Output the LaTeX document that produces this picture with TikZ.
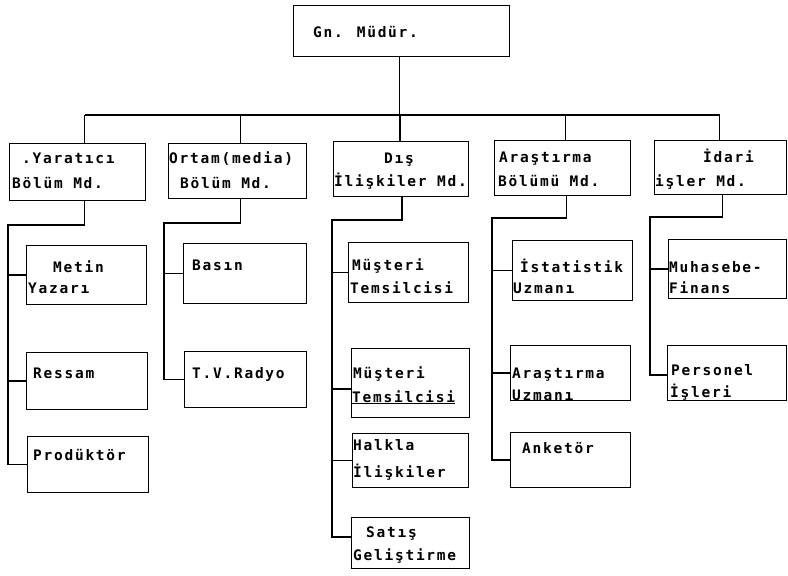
\documentclass[tikz,border=0pt]{standalone}
\usepackage{fontspec}
\newfontfamily\tw{DejaVu Sans Mono}[LetterSpace=12]
\usetikzlibrary{calc}
\tikzset{
  box/.style={draw, line width=1.3pt, inner sep=0pt, anchor=north west},
  txt/.style={font=\tw\bfseries\fontsize{14.5}{16}\selectfont, anchor=base west, inner sep=0pt},
  con/.style={line width=1.4pt}
}
\newcommand{\bx}[5]{\node[box, minimum width={#4-#2}, minimum height={#5-#3}] (#1) at (#2,#3) {};}
\begin{document}
\begin{tikzpicture}[x=1pt,y=-1pt]
\useasboundingbox (0,0) rectangle (788,576);
% boxes
\bx{gm}{293}{5}{509}{56}
\bx{yar}{9}{143}{145}{200}
\bx{ort}{168}{143}{306}{198}
\bx{dis}{333}{141}{468}{196}
\bx{ara}{494}{140}{630}{195}
\bx{ida}{654}{140}{786}{194}
\bx{met}{26}{245}{146}{304}
\bx{res}{26}{352}{147}{409}
\bx{pro}{27}{436}{148}{492}
\bx{bas}{183}{243}{306}{303}
\bx{tv}{184}{351}{306}{407}
\bx{mus1}{348}{242}{468}{302}
\bx{mus2}{351}{348}{469}{417}
\bx{hal}{352}{433}{468}{487}
\bx{sat}{351}{517}{469}{568}
\bx{ist}{512}{240}{632}{300}
\bx{aru}{510}{345}{630}{400}
\bx{ank}{510}{432}{630}{487}
\bx{muh}{668}{239}{786}{298}
\bx{per}{667}{345}{786}{400}
% texts
\node[txt] (tgm) at (313,37) {Gn. Müdür.};
\node[txt] (tyar1) at (22,163) {.Yaratıcı};
\node[txt] (tyar2) at (12,188) {Bölüm Md.};
\node[txt] (tort1) at (169,163) {Ortam(media)};
\node[txt] (tort2) at (180,188) {Bölüm Md.};
\node[txt] (tdis1) at (384,163) {Dış};
\node[txt] (tdis2) at (334,186) {İlişkiler Md.};
\node[txt] (tara1) at (499,162) {Araştırma};
\node[txt] (tara2) at (498,186) {Bölümü Md.};
\node[txt] (tida1) at (703,162) {İdari};
\node[txt] (tida2) at (655,186) {işler Md.};
\node[txt] (tmet1) at (53,272) {Metin};
\node[txt] (tmet2) at (28,293) {Yazarı};
\node[txt] (tbas) at (192,270) {Basın};
\node[txt] (tres) at (33,378) {Ressam};
\node[txt] (ttv) at (192,378) {T.V.Radyo};
\node[txt] (tpro) at (33,460) {Prodüktör};
\node[txt] (tmus11) at (352,270) {Müşteri};
\node[txt] (tmus12) at (350,293) {Temsilcisi};
\node[txt] (tmus21) at (353,378) {Müşteri};
\node[txt] (tmus22) at (352,402) {\underline{Temsilcisi}};
\node[txt] (thal1) at (353,450) {Halkla};
\node[txt] (thal2) at (353,477) {İlişkiler};
\node[txt] (tsat1) at (366,537) {Satış};
\node[txt] (tsat2) at (353,560) {Geliştirme};
\node[txt] (tist1) at (520,272) {İstatistik};
\node[txt] (tist2) at (513,293) {Uzmanı};
\node[txt] (taru1) at (512,378) {Araştırma};
\node[txt] (taru2) at (512,400) {Uzmanı};
\node[txt] (tank) at (522,453) {Anketör};
\node[txt] (tmuh1) at (669,272) {Muhasebe-};
\node[txt] (tmuh2) at (669,293) {Finans};
\node[txt] (tper1) at (671,375) {Personel};
\node[txt] (tper2) at (670,397) {İşleri};
% top bus
\coordinate (bus) at (399,115);
\draw[con] ([xshift=-2]gm.south) -- ([xshift=-2]gm.south |- bus);
\draw[con] ([xshift=7]yar.north |- bus) -- ([xshift=-1]ida.north |- bus);
\draw[con] ([xshift=7]yar.north) -- ([xshift=7]yar.north |- bus);
\draw[con] ([xshift=3]ort.north) -- ([xshift=3]ort.north |- bus);
\draw[con] ([xshift=-1]dis.north) -- ([xshift=-1]dis.north |- bus);
\draw[con] ([xshift=3]ara.north) -- ([xshift=3]ara.north |- bus);
\draw[con] ([xshift=-1]ida.north) -- ([xshift=-1]ida.north |- bus);
% Yaratici group
\coordinate (s1) at (8,225);
\draw[con] ([xshift=7]yar.south) |- (s1) -- (s1 |- pro.west) -- (pro.west);
\draw[con] (s1 |- met.west) -- (met.west);
\draw[con] (s1 |- res.west) -- (res.west);
% Ortam group
\coordinate (s2) at (164,223);
\draw[con] ([xshift=3]ort.south) |- (s2) -- (s2 |- tv.west) -- (tv.west);
\draw[con] (s2 |- bas.west) -- (bas.west);
% Dis group
\coordinate (s3) at (332,220);
\draw[con] ([xshift=1]dis.south) |- (s3) -- ([yshift=6]s3 |- sat.west) -- ([yshift=6]sat.west);
\draw[con] (s3 |- mus1.west) -- (mus1.west);
\draw[con] ([yshift=-6]s3 |- mus2.west) -- ([yshift=-6]mus2.west);
\draw[con] (s3 |- hal.west) -- (hal.west);
% Arastirma group
\coordinate (s4) at (492,218);
\draw[con] ([xshift=4]ara.south) |- (s4) -- (s4 |- ank.west) -- (ank.west);
\draw[con] (s4 |- ist.west) -- (ist.west);
\draw[con] (s4 |- aru.west) -- (aru.west);
% Idari group
\coordinate (s5) at (650,217);
\draw[con] ([xshift=2]ida.south) |- (s5) -- ([yshift=-2]s5 |- per.west) -- ([yshift=-2]per.west);
\draw[con] (s5 |- muh.west) -- (muh.west);
\end{tikzpicture}
\end{document}
